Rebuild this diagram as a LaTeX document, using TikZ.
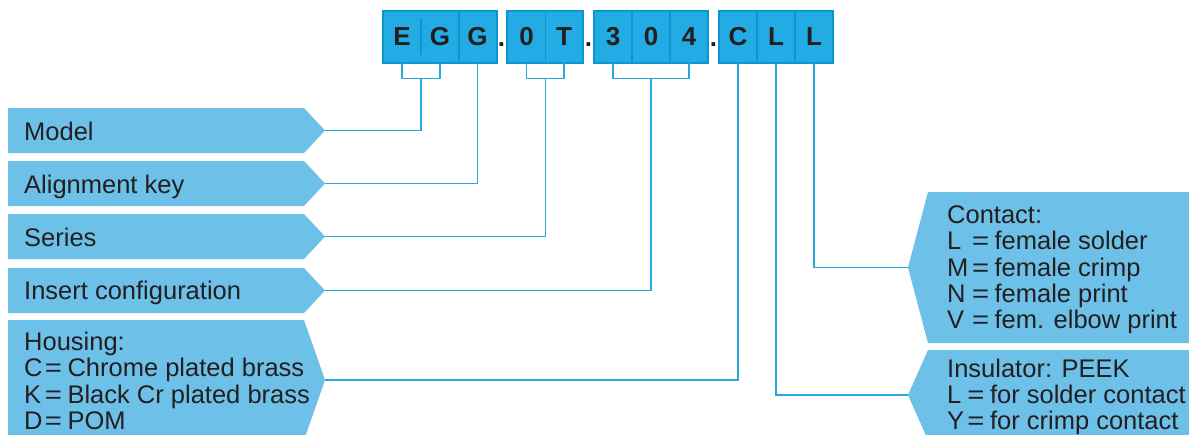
\documentclass[tikz,border=0pt]{standalone}
\usepackage{fontspec}
\usepackage{graphicx}
\setmainfont{Liberation Sans}
\definecolor{labfill}{HTML}{6DC0E8}
\definecolor{topfill}{HTML}{22ACE3}
\definecolor{topline}{HTML}{0A95D3}
\definecolor{lineblue}{HTML}{2BA6DF}
\definecolor{ink}{HTML}{231F20}
\newcommand\kvpair[2]{\makebox[#1][l]{#2}\makebox[0.7em][c]{\scalebox{1.15}[1]{=}}\hspace{0.2em}}
\begin{document}
\begin{tikzpicture}[x=1pt,y=-1pt,
 cell/.style={fill=topfill, minimum width=38pt, minimum height=52pt, inner sep=0pt, text=ink, font=\fontsize{26}{26}\selectfont\bfseries},
 grp/.style={draw=topline, line width=1.8pt},
 sepline/.style={draw=topline, line width=1.5pt},
 dotmark/.style={anchor=base, inner sep=0pt, text=ink, font=\fontsize{26}{26}\selectfont\bfseries},
 labshape/.style={fill=labfill},
 labtext/.style={anchor=base west, inner sep=0pt, text=ink, font=\fontsize{25.5}{26.3}\selectfont},
 multitext/.style={anchor=north west, inner sep=0pt, align=left, text=ink, font=\fontsize{25.5}{26.3}\selectfont},
 conn/.style={draw=lineblue, line width=1.3pt},
]
\clip (0,0) rectangle (1189,434);
\fill[white] (0,0) rectangle (1189,434);

% code boxes
\node[cell] (e1) at (402,37) {E};
\node[cell] (g1) at (440,37) {G};
\node[cell] (g2) at (477.5,37) {G};
\node[cell] (n0) at (526.5,37) {0};
\node[cell] (t1) at (564,37) {T};
\node[cell] (d3) at (613,37) {3};
\node[cell] (d0) at (651,37) {0};
\node[cell] (d4) at (689,37) {4};
\node[cell] (cc) at (738,37) {C};
\node[cell] (l1) at (776,37) {L};
\node[cell] (l2) at (814,37) {L};

\draw[grp] (e1.north west) rectangle (g2.south east);
\draw[sepline] (421,18) -- (421,55);
\draw[sepline] (g1.north east) -- (g1.south east);
\draw[grp] (n0.north west) rectangle (t1.south east);
\draw[sepline] (n0.north east) -- (n0.south east);
\draw[grp] (d3.north west) rectangle (d4.south east);
\draw[sepline] (d3.north east) -- (d3.south east);
\draw[sepline] (d0.north east) -- (d0.south east);
\draw[grp] (cc.north west) rectangle (l2.south east);
\draw[sepline] (cc.north east) -- (cc.south east);
\draw[sepline] (l1.north east) -- (l1.south east);

\node[dotmark] (p1) at (501.5,46.5) {.};
\node[dotmark] (p2) at (588.5,46.5) {.};
\node[dotmark] (p3) at (713.5,46.5) {.};

% left labels
\fill[labshape] (8,108) -- (304,108) -- (325,130.5) -- (304,153) -- (8,153) -- cycle;
\coordinate (tModel) at (325,130.5);
\node[labtext] (xModel) at (24,140) {Model};

\fill[labshape] (8,161) -- (304,161) -- (325,183.5) -- (304,206) -- (8,206) -- cycle;
\coordinate (tAlign) at (325,183.5);
\node[labtext] (xAlign) at (24,193) {Alignment key};

\fill[labshape] (8,214) -- (304,214) -- (325,236.5) -- (304,259) -- (8,259) -- cycle;
\coordinate (tSeries) at (325,236.5);
\node[labtext] (xSeries) at (24,246) {Series};

\fill[labshape] (8,268) -- (304,268) -- (325,290.5) -- (304,313) -- (8,313) -- cycle;
\coordinate (tInsert) at (325,290.5);
\node[labtext] (xInsert) at (24,299.5) {Insert configuration};

\fill[labshape] (8,320) -- (304,320) -- (325,380) -- (304,440) -- (8,440) -- cycle;
\coordinate (tHousing) at (325,380);
\node[multitext] (xHousing) at (24,332) {\rule{0pt}{18pt}Housing:\\
\kvpair{0.8em}{C}Chrome plated brass\\
\kvpair{0.8em}{K}Black Cr plated brass\\
\kvpair{0.8em}{D}POM};

% right labels
\fill[labshape] (928,192) -- (1200,192) -- (1200,343) -- (928,343) -- (908,267.5) -- cycle;
\coordinate (tContact) at (908,267.5);
\node[multitext] (xContact) at (947,205.3) {\rule{0pt}{18pt}Contact:\\
\kvpair{0.96em}{L}female solder\\
\kvpair{0.96em}{M}female crimp\\
\kvpair{0.96em}{N}female print\\
\kvpair{0.96em}{V}fem. elbow print};

\fill[labshape] (928,350) -- (1200,350) -- (1200,440) -- (928,440) -- (908,395) -- cycle;
\coordinate (tInsul) at (908,395);
\node[multitext] (xInsul) at (947,358.7) {\rule{0pt}{18pt}Insulator: PEEK\\
\kvpair{0.78em}{L}for solder contact\\
\kvpair{0.78em}{Y}for crimp contact};

% connectors
\coordinate (bEG) at (421,78);
\coordinate (bOT) at (545.25,78);
\coordinate (bNum) at (651,78);
\draw[conn] (e1.south) -- ++(0,15) -| (g1.south);
\draw[conn] (bEG) |- (tModel);
\draw[conn] (g2.south) |- (tAlign);
\draw[conn] (n0.south) -- ++(0,15) -| (t1.south);
\draw[conn] (bOT) |- (tSeries);
\draw[conn] (d3.south) -- ++(0,15) -| (d4.south);
\draw[conn] (bNum) |- (tInsert);
\draw[conn] (cc.south) |- (tHousing);
\draw[conn] (l1.south) |- (tInsul);
\draw[conn] (l2.south) |- (tContact);
\end{tikzpicture}
\end{document}
